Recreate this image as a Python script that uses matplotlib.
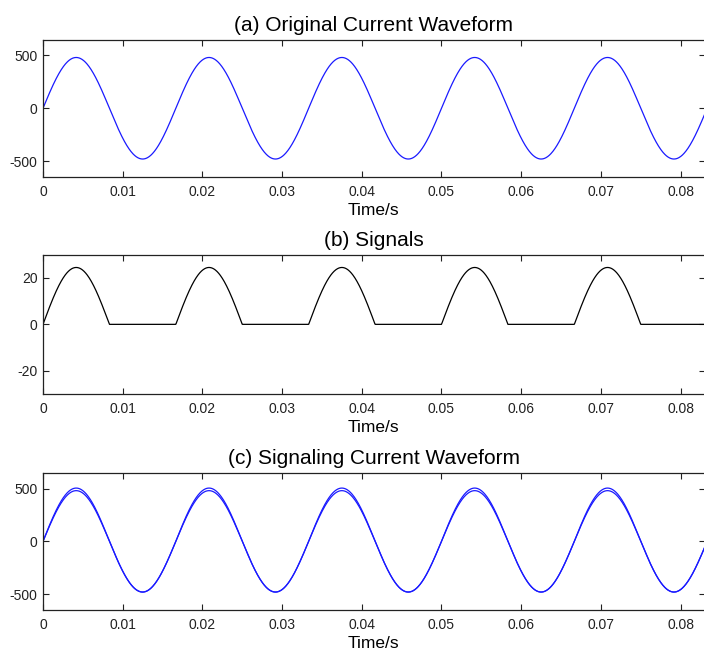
import numpy as np
import matplotlib
matplotlib.use("Agg")
import matplotlib.pyplot as plt

plt.rcParams['font.family'] = ['Liberation Sans', 'DejaVu Sans']
plt.rcParams['axes.unicode_minus'] = False

# ---- data ----
line_frequency_hz = 60.0
current_amplitude = 480.0
signal_amplitude = 24.5
signaling_start_value = -45.0
t_end = 0.083
n_samples = 2000

titles = ["(a) Original Current Waveform", "(b) Signals", "(c) Signaling Current Waveform"]
x_label = "Time/s"
x_ticks = [0, 0.01, 0.02, 0.03, 0.04, 0.05, 0.06, 0.07, 0.08]
x_tick_labels = ["0", "0.01", "0.02", "0.03", "0.04", "0.05", "0.06", "0.07", "0.08"]
y_ticks_current = [-500, 0, 500]
y_ticks_signal = [-20, 0, 20]
ylim_current = (-650, 650)
ylim_signal = (-30, 30)

t = np.linspace(0, t_end, n_samples)
phase = np.sin(2 * np.pi * line_frequency_hz * t)
original = current_amplitude * phase
signal = signal_amplitude * np.clip(phase, 0, None)
signaling = original + signal
signaling[0] = signaling_start_value

W, H = 704, 655
fig = plt.figure(figsize=(W / 100, H / 100), dpi=100)

def add_ax(top_px, bottom_px):
    left = 43 / W
    right = 704.5 / W
    return fig.add_axes([left, 1 - bottom_px / H, right - left, (bottom_px - top_px) / H])

axes = [add_ax(39.5, 177), add_ax(254.7, 394), add_ax(472.7, 610)]

blue = '#1a1aff'
axes[0].plot(t, original, color=blue, lw=0.9)
axes[1].plot(t, signal, color='black', lw=0.9)
axes[2].plot(t, original, color=blue, lw=0.9)
axes[2].plot(t, signaling, color=blue, lw=0.9)

for i, ax in enumerate(axes):
    ax.set_xlim(0, t_end)
    ax.set_xticks(x_ticks)
    ax.set_xticklabels(x_tick_labels)
    if i == 1:
        ax.set_ylim(*ylim_signal)
        ax.set_yticks(y_ticks_signal)
    else:
        ax.set_ylim(*ylim_current)
        ax.set_yticks(y_ticks_current)
    ax.tick_params(direction='in', length=4, width=0.8, top=True, right=True,
                   labelsize=10, colors='#222222')
    ax.tick_params(axis='x', pad=5.5)
    ax.tick_params(axis='y', pad=4)
    for s in ax.spines.values():
        s.set_linewidth(0.9)
        s.set_color('#222222')
    ax.set_xlabel(x_label, fontsize=12.5, labelpad=3)
    ax.set_title(titles[i], fontsize=15, pad=6)

fig.savefig("out.png", dpi=100)
